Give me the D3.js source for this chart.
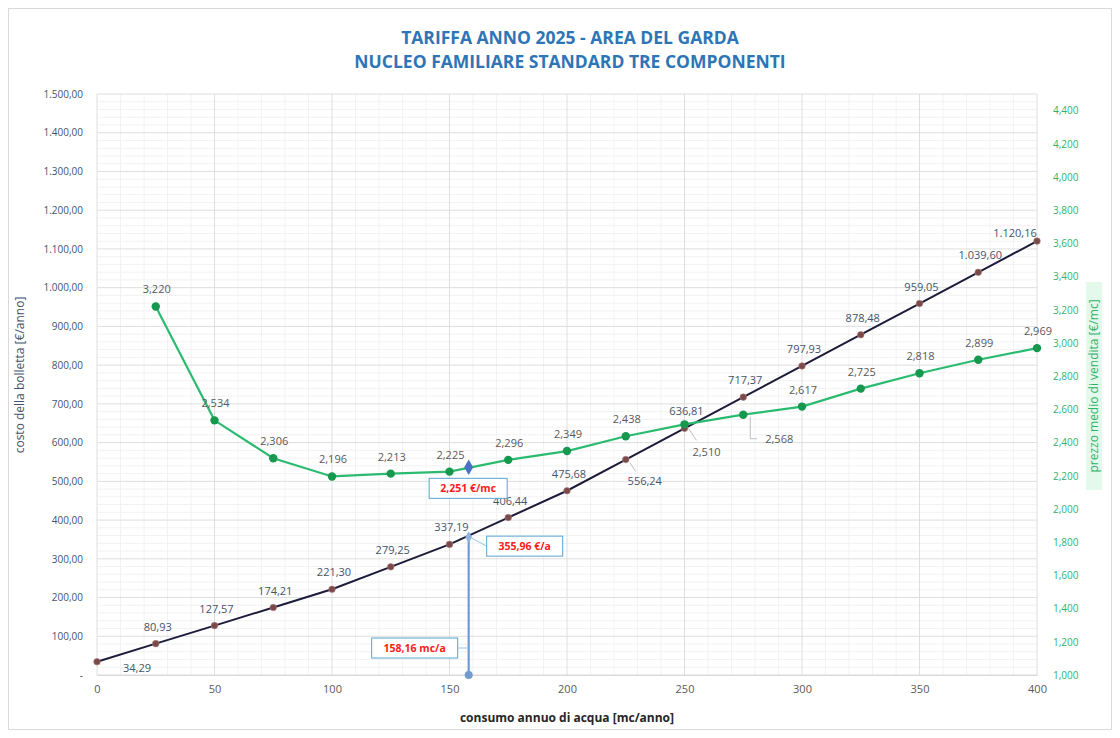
<!DOCTYPE html>
<html><head><meta charset="utf-8">
<script src="https://cdn.jsdelivr.net/npm/d3@7"></script>
<style>body{margin:0;background:#fff}svg{display:block}text{font-family:"Open Sans","Liberation Sans",sans-serif}</style>
</head><body><svg id="c" width="1120" height="738"></svg>
<script>
// ---- data ----
const consumo = [0,25,50,75,100,125,150,175,200,225,250,275,300,325,350,375,400];
const costo = [34.29,80.93,127.57,174.21,221.30,279.25,337.19,406.44,475.68,556.24,636.81,717.37,797.93,878.48,959.05,1039.60,1120.16];
const consumoPrezzo = [25,50,75,100,125,150,175,200,225,250,275,300,325,350,375,400];
const prezzo = [3.220,2.534,2.306,2.196,2.213,2.225,2.296,2.349,2.438,2.510,2.568,2.617,2.725,2.818,2.899,2.969];
const puntoConsumo = 158.16, puntoCosto = 355.96, puntoPrezzo = 2.251;
const leftTicks = d3.range(0,1501,100);
const rightTicks = d3.range(1.0,4.41,0.2);
const xTicks = d3.range(0,401,50);
const titolo = ["TARIFFA ANNO 2025 - AREA DEL GARDA","NUCLEO FAMILIARE STANDARD TRE COMPONENTI"];

const svg = d3.select("#c");
const x = d3.scaleLinear().domain([0,400]).range([97,1037]);
const yL = d3.scaleLinear().domain([0,1500]).range([675,94]);
const yR = d3.scaleLinear().domain([1.0,4.5]).range([675,94]);

const itL = d3.format(",.2f"), itR = d3.format(",.3f");
const it = (s)=>s.replace(/[,.]/g,m=>m===","?"\u0001":",").replace(/\u0001/g,".");
const fmtL = v => v===0 ? "-" : it(itL(v));
const fmtR = v => it(itR(v));

svg.append("rect").attr("x",8.5).attr("y",8.5).attr("width",1103).attr("height",721)
  .attr("fill","#fff").attr("stroke","#d9d9d9");

// grid
const g = svg.append("g");
d3.range(0,401,10).forEach(v=>{ if(v%50) g.append("line").attr("x1",x(v)).attr("x2",x(v)).attr("y1",94).attr("y2",675).attr("stroke","#f2f2f2"); });
d3.range(0,1501,20).forEach(v=>{ if(v%100) g.append("line").attr("x1",97).attr("x2",1037).attr("y1",yL(v)).attr("y2",yL(v)).attr("stroke","#f2f2f2"); });
xTicks.forEach(v=>g.append("line").attr("x1",x(v)).attr("x2",x(v)).attr("y1",94).attr("y2",675).attr("stroke","#dedede"));
leftTicks.forEach(v=>g.append("line").attr("x1",97).attr("x2",1037).attr("y1",yL(v)).attr("y2",yL(v)).attr("stroke","#dedede"));

// axes
const axL = svg.append("g").attr("transform","translate(97,0)")
  .call(d3.axisLeft(yL).tickValues(leftTicks).tickFormat(fmtL).tickSize(0).tickPadding(14));
axL.select(".domain").remove();
axL.selectAll("text").attr("fill","#44546a").attr("font-size",10);
const axR = svg.append("g").attr("transform","translate(1037,0)")
  .call(d3.axisRight(yR).tickValues(rightTicks).tickFormat(fmtR).tickSize(0).tickPadding(16));
axR.select(".domain").remove();
axR.selectAll("text").attr("fill","#2fb36b").attr("font-size",10);
const axX = svg.append("g").attr("transform","translate(0,675)")
  .call(d3.axisBottom(x).tickValues(xTicks).tickFormat(d=>d).tickSize(0).tickPadding(10));
axX.select(".domain").attr("stroke","#d9d9d9");
axX.selectAll("text").attr("fill","#595959").attr("font-size",11);

// titles
svg.selectAll("text.t").data(titolo).enter().append("text")
  .attr("x",570).attr("y",(d,i)=>44+i*24).attr("text-anchor","middle")
  .attr("font-weight","bold").attr("font-size",17.5).attr("fill","#2e75b6").text(d=>d);
svg.append("text").attr("transform","translate(24,375) rotate(-90)").attr("text-anchor","middle")
  .attr("font-size",12).attr("fill","#44546a").text("costo della bolletta [€/anno]");
const rt = svg.append("g").attr("transform","translate(1098,386) rotate(-90)");
rt.append("rect").attr("x",-104).attr("y",-12).attr("width",208).attr("height",16).attr("fill","#e4f8ec");
rt.append("text").attr("text-anchor","middle").attr("font-size",12).attr("fill","#2fb36b").text("prezzo medio di vendita [€/mc]");
svg.append("text").attr("x",567).attr("y",722).attr("text-anchor","middle").attr("font-weight","bold")
  .attr("font-size",12).attr("fill","#262626").text("consumo annuo di acqua [mc/anno]");

// lines
const cData = consumo.map((c,i)=>({x:c,y:costo[i]}));
const pData = consumoPrezzo.map((c,i)=>({x:c,y:prezzo[i]}));
svg.append("path").datum(cData).attr("fill","none").attr("stroke","#1c1c3a").attr("stroke-width",2)
  .attr("d",d3.line().x(d=>x(d.x)).y(d=>yL(d.y)));
svg.append("path").datum(pData).attr("fill","none").attr("stroke","#2bbb70").attr("stroke-width",2.2)
  .attr("d",d3.line().x(d=>x(d.x)).y(d=>yR(d.y)));
svg.selectAll("circle.c").data(cData).enter().append("circle").attr("cx",d=>x(d.x)).attr("cy",d=>yL(d.y))
  .attr("r",3.3).attr("fill","#7a4a4a").attr("stroke","#b08080").attr("stroke-width",0.6);
svg.selectAll("circle.p").data(pData).enter().append("circle").attr("cx",d=>x(d.x)).attr("cy",d=>yR(d.y))
  .attr("r",4.2).attr("fill","#17984f");

// labels
cData.forEach((d,i)=>{
  let px=x(d.x), py=yL(d.y), tx=px+2, ty=py-13;
  if(i===0){tx=px+40;ty=py+10;}
  if(i===9){tx=px+19;ty=py+25;
    svg.append("line").attr("x1",px+4).attr("y1",py+3).attr("x2",px+10).attr("y2",py+12).attr("stroke","#bfbfbf");}
  if(i===16){tx=px-22;ty=py-4;}
  svg.append("text").attr("x",tx).attr("y",ty).attr("text-anchor","middle").attr("font-size",11)
    .attr("fill","#44546a").text(fmtL(d.y));
});
pData.forEach((d,i)=>{
  let px=x(d.x), py=yR(d.y), tx=px+1, ty=py-13;
  if(i===9){tx=px+22;ty=py+32;
    svg.append("line").attr("x1",px+4).attr("y1",py+4).attr("x2",px+12).attr("y2",py+16).attr("stroke","#bfbfbf");}
  if(i===10){tx=px+36;ty=py+28;
    svg.append("polyline").attr("points",`${px+7},${py+2} ${px+7},${py+24} ${px+14},${py+24}`).attr("fill","none").attr("stroke","#bfbfbf");}
  svg.append("text").attr("x",tx).attr("y",ty).attr("text-anchor","middle").attr("font-size",11)
    .attr("fill","#595959").text(fmtR(d.y));
});

// highlighted point
const hx = x(puntoConsumo), hc = yL(puntoCosto), hp = yR(puntoPrezzo);
svg.append("line").attr("x1",hx).attr("x2",hx).attr("y1",yL(0)).attr("y2",hc).attr("stroke","#6f9bd0").attr("stroke-width",2.2);
svg.append("circle").attr("cx",hx).attr("cy",yL(0)).attr("r",4).attr("fill","#6f9bd0");
svg.append("path").attr("d",d3.symbol(d3.symbolDiamond,40)()).attr("transform",`translate(${hx},${hc})`).attr("fill","#8fb4e0");
svg.append("path").attr("d",d3.symbol(d3.symbolDiamond,70)()).attr("transform",`translate(${hx},${hp})`).attr("fill","#4a72c4");
function box(cx,cy,w,txt,lx,ly,ex,ey){
  if(lx!==undefined) svg.append("line").attr("x1",lx).attr("y1",ly).attr("x2",ex).attr("y2",ey).attr("stroke","#9dc3e6");
  svg.append("rect").attr("x",cx-w/2).attr("y",cy-10).attr("width",w).attr("height",20).attr("fill","#fff").attr("stroke","#5ba3cf");
  svg.append("text").attr("x",cx).attr("y",cy+3.5).attr("text-anchor","middle").attr("font-size",10.5).attr("font-weight","bold").attr("fill","#ff1a1a").text(txt);
}
box(hx-0.5,hp+21,78, it(d3.format(",.3f")(puntoPrezzo))+" €/mc");
box(hx+56,hc+9,76, it(d3.format(",.2f")(puntoCosto))+" €/a", hx+3,hc+1,hx+18,hc+9);
box(hx-54,yL(0)-27,86, it(d3.format(",.2f")(puntoConsumo))+" mc/a", hx-11,yL(0)-27,hx,yL(0)-27);
</script></body></html>
